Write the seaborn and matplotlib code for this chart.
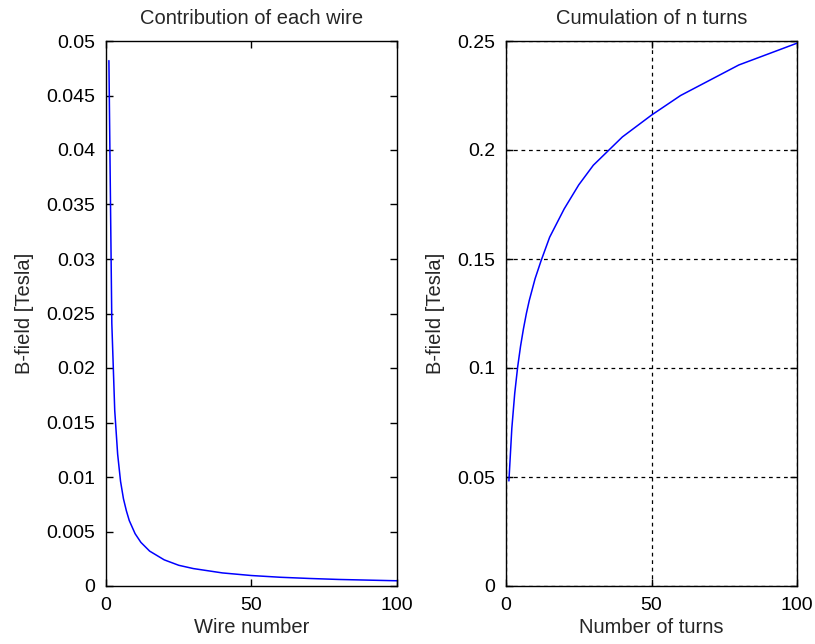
import matplotlib
matplotlib.use("Agg")
import matplotlib.pyplot as plt
import seaborn as sns
import pandas as pd

# Data
wire_number = [1, 2, 3, 4, 5, 6, 7, 8, 10, 12, 15, 20, 25, 30, 40, 50, 60, 70, 80, 90, 100]
wire_field = [0.0482, 0.0241, 0.0161, 0.0121, 0.0096, 0.0080, 0.0069, 0.0060, 0.0048,
              0.0040, 0.0032, 0.0024, 0.0019, 0.0016, 0.0012, 0.00096, 0.0008,
              0.00069, 0.0006, 0.00054, 0.00048]
cum_field = [0.0482, 0.0723, 0.0884, 0.1004, 0.1100, 0.1180, 0.1250, 0.1310, 0.1410,
             0.1490, 0.1600, 0.1730, 0.1840, 0.1930, 0.2060, 0.2160, 0.2250, 0.2320,
             0.2390, 0.2440, 0.2490]

left_yticks = [0, 0.005, 0.01, 0.015, 0.02, 0.025, 0.03, 0.035, 0.04, 0.045, 0.05]
left_ylabels = ["0", "0.005", "0.01", "0.015", "0.02", "0.025", "0.03", "0.035", "0.04", "0.045", "0.05"]
right_yticks = [0, 0.05, 0.1, 0.15, 0.2, 0.25]
right_ylabels = ["0", "0.05", "0.1", "0.15", "0.2", "0.25"]
xticks = [0, 50, 100]
xlabels = ["0", "50", "100"]

df = pd.DataFrame({"n": wire_number, "wire": wire_field, "cum": cum_field})

sns.set_style("ticks")
plt.rcParams["font.family"] = ["Liberation Sans", "DejaVu Sans"]
FS = 14.5
TFS = 14

fig = plt.figure(figsize=(8.15, 6.44), dpi=100)
ax1 = fig.add_axes([106/815, 58/644, 291/815, 545/644])
ax2 = fig.add_axes([506/815, 58/644, 291/815, 545/644])

sns.lineplot(data=df, x="n", y="wire", ax=ax1, color="#0000ff", linewidth=1.1)
sns.lineplot(data=df, x="n", y="cum", ax=ax2, color="#0000ff", linewidth=1.1)

for ax in (ax1, ax2):
    ax.set_xlim(0, 100)
    ax.set_xticks(xticks)
    ax.set_xticklabels(xlabels)
    for s in ax.spines.values():
        s.set_visible(True)
        s.set_color("black")
        s.set_linewidth(1.0)
    ax.tick_params(direction="in", top=True, right=True, length=5, width=1,
                   labelsize=TFS, colors="black")
    ax.tick_params(axis="y", pad=7.5)
    ax.tick_params(axis="x", pad=8)
    ax.set_ylabel("B-field [Tesla]", fontsize=FS, labelpad=9)

ax1.set_ylim(0, 0.05)
ax1.set_yticks(left_yticks)
ax1.set_yticklabels(left_ylabels)
ax1.set_xlabel("Wire number", fontsize=FS, labelpad=3)
ax1.set_title("Contribution of each wire", fontsize=FS, pad=12)

ax2.set_ylim(0, 0.25)
ax2.set_yticks(right_yticks)
ax2.set_yticklabels(right_ylabels)
ax2.set_xlabel("Number of turns", fontsize=FS, labelpad=3)
ax2.set_title("Cumulation of n turns", fontsize=FS, pad=12)
ax2.grid(True, color="black", linestyle=(0, (3, 3)), linewidth=0.9)

fig.savefig("out.png", dpi=100, facecolor="white")
